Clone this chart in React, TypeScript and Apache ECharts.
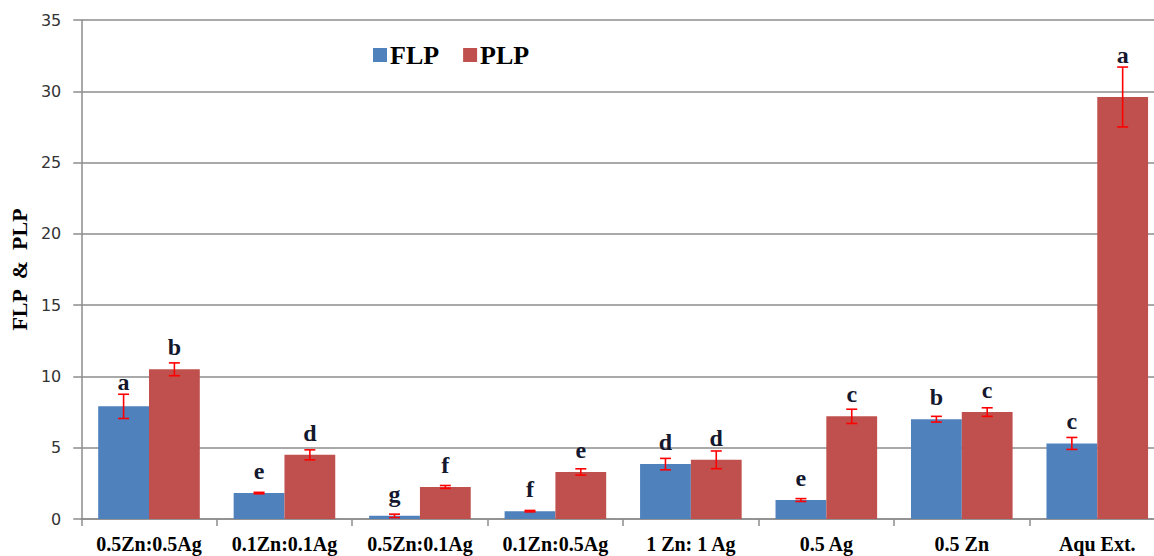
import React, { useEffect, useRef } from "react";
import * as echarts from "echarts";

const categories = ["0.5Zn:0.5Ag", "0.1Zn:0.1Ag", "0.5Zn:0.1Ag", "0.1Zn:0.5Ag", "1 Zn: 1 Ag", "0.5 Ag", "0.5 Zn", "Aqu Ext."];
const flp = [7.9, 1.82, 0.22, 0.55, 3.85, 1.33, 7.0, 5.3];
const flpErr = [0.85, 0.05, 0.12, 0.05, 0.4, 0.1, 0.2, 0.42];
const flpLetters = ["a", "e", "g", "f", "d", "e", "b", "c"];
const plp = [10.5, 4.5, 2.25, 3.3, 4.15, 7.2, 7.5, 29.6];
const plpErr = [0.45, 0.35, 0.1, 0.22, 0.62, 0.5, 0.3, 2.1];
const plpLetters = ["b", "d", "f", "e", "d", "c", "c", "a"];

const BLUE = "#4F81BD";
const RED = "#C0504D";
const CAT_GAP = 0.25;

function errSeries(name: string, values: number[], errs: number[], letters: string[], side: number) {
  return {
    type: "custom",
    name: name + "_err",
    silent: true,
    z: 10,
    data: values.map((v, i) => [i, v, errs[i], letters[i]]),
    renderItem: (params: any, api: any) => {
      const i = api.value(0);
      const v = api.value(1);
      const e = api.value(2);
      const letter = letters[i];
      const band = api.size([1, 0])[0];
      const bw = (band * (1 - CAT_GAP)) / 2;
      const c = api.coord([i, v]);
      const x = c[0] + side * (bw / 2);
      const top = api.coord([i, v + e])[1];
      const bot = api.coord([i, v - e])[1];
      const cap = 5.5;
      const ls = { stroke: "#FF0000", lineWidth: 1.6 };
      const labelY = Math.min(c[1] - 22, top - 12);
      return {
        type: "group",
        children: [
          { type: "line", shape: { x1: x, y1: top, x2: x, y2: bot }, style: ls },
          { type: "line", shape: { x1: x - cap, y1: top, x2: x + cap, y2: top }, style: ls },
          { type: "line", shape: { x1: x - cap, y1: bot, x2: x + cap, y2: bot }, style: ls },
          {
            type: "text",
            x: x,
            y: labelY,
            style: {
              text: letter,
              fill: "#14182e",
              font: "bold 24px 'Liberation Serif', 'Times New Roman', serif",
              align: "center",
              verticalAlign: "middle",
            },
          },
        ],
      };
    },
  };
}

export default function App() {
  const ref = useRef<HTMLDivElement>(null);
  useEffect(() => {
    if (!ref.current) return;
    const chart = echarts.init(ref.current, undefined, { renderer: "svg" });
    chart.setOption({
      animation: false,
      backgroundColor: "#ffffff",
      grid: { left: 80, right: 5, top: 20, bottom: 37, containLabel: false },
      legend: {
        left: 373,
        top: 42,
        padding: 0,
        icon: "rect",
        itemWidth: 14,
        itemHeight: 14,
        itemGap: 24,
        data: ["FLP", "PLP"],
        textStyle: {
          fontFamily: "'Liberation Serif', serif",
          fontWeight: "bold",
          fontSize: 26,
          color: "#000",
          padding: [0, 0, 0, -2],
        },
      },
      xAxis: {
        type: "category",
        data: categories,
        axisLine: { lineStyle: { color: "#8c8c8c", width: 1.5 } },
        axisTick: { show: true, length: 7, alignWithLabel: false, lineStyle: { color: "#8c8c8c", width: 1.5 } },
        axisLabel: {
          margin: 15,
          fontFamily: "'Liberation Serif', serif",
          fontWeight: "bold",
          fontSize: 20,
          color: "#000",
          interval: 0,
        },
      },
      yAxis: {
        type: "value",
        min: 0,
        max: 35,
        interval: 5,
        name: "FLP  &  PLP",
        nameLocation: "middle",
        nameGap: 42,
        nameTextStyle: {
          fontFamily: "'Liberation Serif', serif",
          fontWeight: "bold",
          fontSize: 22,
          color: "#000",
        },
        axisLine: { show: true, lineStyle: { color: "#8c8c8c", width: 1.5 } },
        axisTick: { show: true, length: 8, lineStyle: { color: "#8c8c8c", width: 1.5 } },
        axisLabel: {
          margin: 20,
          fontFamily: "'DejaVu Sans', Verdana, sans-serif",
          fontSize: 16,
          color: "#333",
        },
        splitLine: { show: true, lineStyle: { color: "#8c8c8c", width: 1.5 } },
      },
      series: [
        {
          name: "FLP",
          type: "bar",
          data: flp,
          barGap: "0%",
          barCategoryGap: "25%",
          itemStyle: { color: BLUE },
        },
        {
          name: "PLP",
          type: "bar",
          data: plp,
          barGap: "0%",
          barCategoryGap: "25%",
          itemStyle: { color: RED },
        },
        errSeries("FLP", flp, flpErr, flpLetters, -1),
        errSeries("PLP", plp, plpErr, plpLetters, 1),
      ],
    });
    return () => chart.dispose();
  }, []);
  return (
    <div style={{ position: "fixed", left: 0, top: 0, width: 1154, height: 556, overflow: "hidden", background: "#fff" }}>
      <div ref={ref} style={{ width: 1170, height: 556 }} />
    </div>
  );
}
